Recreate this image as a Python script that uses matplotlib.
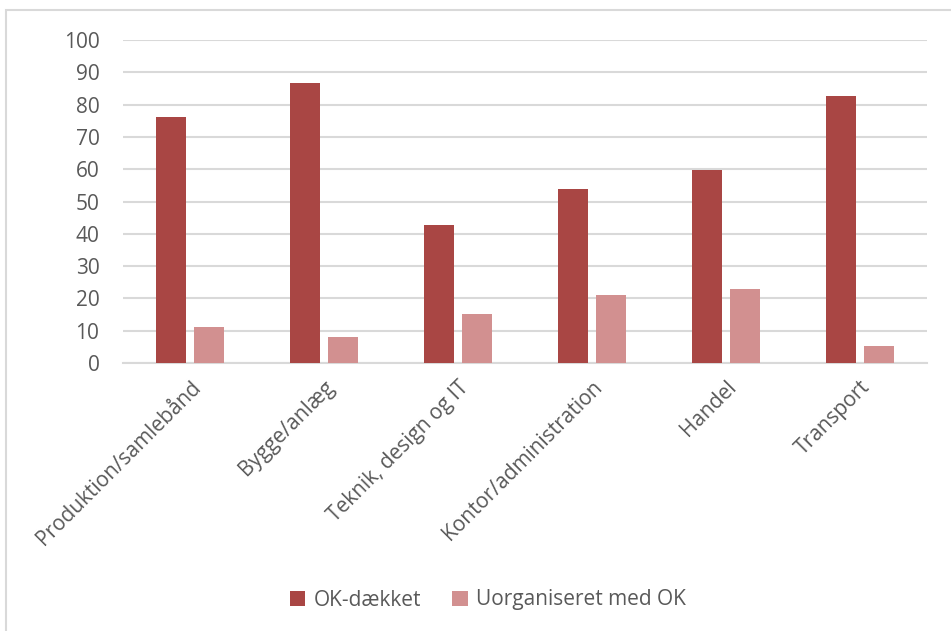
import matplotlib.pyplot as plt
import numpy as np
from matplotlib.patches import Rectangle

# branch categories and shares (%)
categories = ["Produktion/samlebånd", "Bygge/anlæg", "Teknik, design og IT",
              "Kontor/administration", "Handel", "Transport"]
ok_daekket = [76.2, 86.7, 42.8, 53.9, 59.8, 82.6]
uorganiseret = [11.2, 7.9, 15.3, 21.2, 22.9, 5.4]
series_names = ["OK-dækket", "Uorganiseret med OK"]

dark = "#a94644"
light = "#d29090"
grid_col = "#d9d9d9"
txt_col = "#595959"

plt.rcParams['font.family'] = ['Open Sans', 'DejaVu Sans']

fig = plt.figure(figsize=(9.51, 6.31), dpi=100)
# light border around the chart area
fig.patches.append(Rectangle((6 / 951, -0.05), 1.2, 1 - 10 / 631 + 0.05,
                             transform=fig.transFigure, fill=False,
                             edgecolor=grid_col, linewidth=1.5))

ax = fig.add_axes([123 / 951, 1 - 363 / 631, (927 - 123) / 951, (363 - 40) / 631])
x = np.arange(len(categories))
w = 0.224
ax.bar(x - 0.145, ok_daekket, w, color=dark, label=series_names[0], zorder=3)
ax.bar(x + 0.145, uorganiseret, w, color=light, label=series_names[1], zorder=3)

ax.set_xlim(-0.5, len(categories) - 0.5)
ax.set_ylim(0, 100)
ax.set_yticks(range(0, 101, 10))
ax.yaxis.grid(True, color=grid_col, linewidth=1.5, zorder=0)
for s in ["top", "right", "left"]:
    ax.spines[s].set_visible(False)
ax.spines["bottom"].set_color(grid_col)
ax.spines["bottom"].set_linewidth(1.5)
ax.tick_params(length=0, labelsize=15, labelcolor=txt_col)
ax.tick_params(axis="y", pad=17)
ax.tick_params(axis="x", pad=10)
ax.set_xticks(x)
ax.set_xticklabels(categories, rotation=45, ha="right", rotation_mode="anchor")

fig.legend(loc="center", bbox_to_anchor=(488 / 951, 1 - 600 / 631), ncol=2,
           frameon=False, fontsize=15, labelcolor=txt_col, handlelength=0.75,
           handleheight=0.75, columnspacing=1.5, handletextpad=0.4)

fig.savefig("out.png", dpi=100)
